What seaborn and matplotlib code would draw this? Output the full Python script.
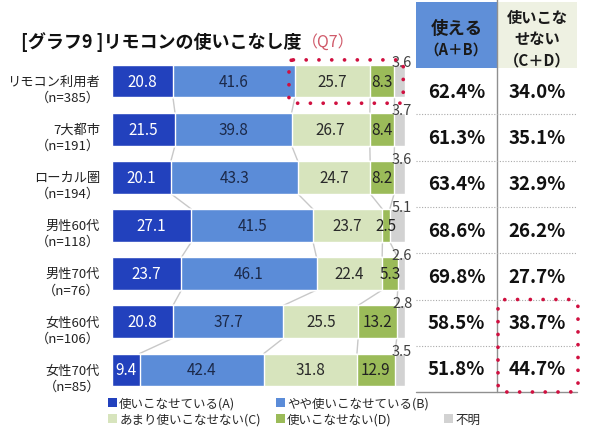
import matplotlib as mpl

mpl.use('Agg')
import matplotlib.pyplot as plt
from matplotlib.patches import Rectangle, FancyBboxPatch, Patch
from matplotlib.lines import Line2D
from matplotlib.transforms import blended_transform_factory
import numpy as np
import pandas as pd
import seaborn as sns

# ---- data ----
groups = ["リモコン利用者", "7大都市", "ローカル圏", "男性60代", "男性70代", "女性60代", "女性70代"]
n_sizes = [385, 191, 194, 118, 76, 106, 85]
used_a = [20.8, 21.5, 20.1, 27.1, 23.7, 20.8, 9.4]
used_b = [41.6, 39.8, 43.3, 41.5, 46.1, 37.7, 42.4]
used_c = [25.7, 26.7, 24.7, 23.7, 22.4, 25.5, 31.8]
used_d = [8.3, 8.4, 8.2, 2.5, 5.3, 13.2, 12.9]
unknown = [3.6, 3.7, 3.6, 5.1, 2.6, 2.8, 3.5]
series_names = ["使いこなせている(A)", "やや使いこなせている(B)",
                "あまり使いこなせない(C)", "使いこなせない(D)", "不明"]
usable_ab = [62.4, 61.3, 63.4, 68.6, 69.8, 58.5, 51.8]
unusable_cd = [34.0, 35.1, 32.9, 26.2, 27.7, 38.7, 44.7]

colors = ['#2241bd', '#5b8cd8', '#d7e4bd', '#9bbb59', '#d2d2d2']
text_colors = ['white', '#1c2a4a', '#2a2a2a', '#222222', '#404040']
red = '#d01040'

sns.set_style('white')
plt.rcParams['font.family'] = ['Noto Sans CJK JP', 'DejaVu Sans']

W, H = 590, 435


def fx(x):
    return x / W


def fy(y):
    return 1 - y / H


fig = plt.figure(figsize=(5.9, 4.35), dpi=100)
ax = fig.add_axes([fx(112), fy(395), 293 / W, 337 / H])

vals = np.array([used_a, used_b, used_c, used_d, unknown])
cum = vals.cumsum(axis=0)
starts = cum - vals
df = pd.DataFrame({'group': groups})
for k in range(5):
    df['cum%d' % k] = cum[k]

bar_w = 0.68
# stacked bars: draw cumulative totals, longest first
for k in range(4, -1, -1):
    sns.barplot(data=df, x='cum%d' % k, y='group', orient='h', color=colors[k],
                width=bar_w, edgecolor='white', linewidth=1, errorbar=None,
                saturation=1, ax=ax)

# series lines between bars
for k in range(4):
    for i in range(len(groups) - 1):
        ax.plot([cum[k, i], cum[k, i + 1]], [i + bar_w / 2, i + 1 - bar_w / 2],
                color='#c8c8c8', lw=1, zorder=0.5)

# segment labels
for k in range(4):
    for i in range(len(groups)):
        ax.text(starts[k, i] + vals[k, i] / 2, i, '%.1f' % vals[k, i],
                ha='center', va='center', color=text_colors[k], fontsize=11)
for i in range(len(groups)):
    ax.text(99, i - bar_w / 2 - 0.05, '%.1f' % unknown[i], ha='center',
            va='center', color=text_colors[4], fontsize=10.5, clip_on=False)

# category labels
trans = blended_transform_factory(ax.transAxes, ax.transData)
for i, (g, n) in enumerate(zip(groups, n_sizes)):
    ax.text(-12 / 293, i + 0.17, '%s\n（n=%d）' % (g, n), transform=trans,
            ha='right', va='center', multialignment='right', fontsize=9.5,
            linespacing=1.3, color='#222222')

ax.set_xlim(0, 100)
ax.set_ylim(len(groups) - 0.5, -0.5)
ax.set_xticks([])
ax.set_yticks([])
ax.set(xlabel='', ylabel='')
sns.despine(ax=ax, left=True, bottom=True)

# red dotted highlight on row 1 (C + D)
hl = FancyBboxPatch((cum[1, 0] - 2, -0.44), 100 - cum[1, 0] + 1.4, 0.9,
                    boxstyle='round,pad=0,rounding_size=1.5', mutation_aspect=0.05,
                    fill=False, edgecolor=red, lw=2.7, ls=(0, (0.01, 3.4)),
                    capstyle='round', clip_on=False, zorder=5)
ax.add_patch(hl)

# title
title = fig.text(fx(21), fy(42), '[グラフ9 ]リモコンの使いこなし度', fontsize=13,
                 fontweight='bold', va='center', ha='left', color='#111111')
ax.annotate('（Q7）', xy=(1, 0.5), xycoords=title, va='center', ha='left',
            fontsize=11.5, color='#d05a6a')

# right-hand table
row_top = 69
row_h = 46.3
fig.add_artist(Rectangle((fx(416), fy(row_top)), 81 / W, (row_top - 3) / H,
                         transform=fig.transFigure, facecolor='#5f8fd8', edgecolor='none'))
fig.add_artist(Rectangle((fx(497), fy(row_top)), 80 / W, (row_top - 3) / H,
                         transform=fig.transFigure, facecolor='#eef1e2', edgecolor='none'))
fig.text(fx(456.5), fy(29), '使える', ha='center', va='center', fontsize=12.5,
         fontweight='bold', color='#1a1a1a')
fig.text(fx(456.5), fy(50), '（A＋B）', ha='center', va='center', fontsize=10.5,
         fontweight='bold', color='#1a1a1a')
for txt, yy in [('使いこな', 18), ('せない', 39), ('（C＋D）', 60)]:
    fig.text(fx(537), fy(yy), txt, ha='center', va='center', fontsize=11,
             fontweight='bold', color='#1a1a1a')

fig.add_artist(Line2D([fx(497), fx(497)], [fy(0), fy(393)],
                      transform=fig.transFigure, color='#909090', lw=1))
for i in range(len(groups)):
    yc = row_top + row_h * (i + 0.5)
    fig.text(fx(456.5), fy(yc), '%.1f%%' % usable_ab[i], ha='center', va='center',
             fontsize=13.5, fontweight='bold', color='#111111')
    fig.text(fx(537), fy(yc), '%.1f%%' % unusable_cd[i], ha='center', va='center',
             fontsize=13.5, fontweight='bold', color='#111111')
    yb = row_top + row_h * (i + 1)
    if i < len(groups) - 1:
        fig.add_artist(Line2D([fx(416), fx(577)], [fy(yb), fy(yb)],
                              transform=fig.transFigure, color='#aaaaaa',
                              lw=0.8, ls=(0, (1, 1.5))))
    else:
        fig.add_artist(Line2D([fx(416), fx(577)], [fy(yb), fy(yb)],
                              transform=fig.transFigure, color='#909090', lw=1))

# red dotted highlight on the table (last two rows, C + D)
top2 = row_top + row_h * 5
hl2 = FancyBboxPatch((fx(498), fy(393)), 80 / W, (393 - top2) / H,
                     boxstyle='round,pad=0,rounding_size=0.015', mutation_aspect=1.3,
                     transform=fig.transFigure, fill=False, edgecolor=red, lw=2.7,
                     ls=(0, (0.01, 3.4)), capstyle='round', zorder=5)
fig.add_artist(hl2)

# legend: A, C / B, D / blank, unknown
handles = [Patch(facecolor=c, edgecolor='none') for c in colors]
blank = Patch(facecolor='none', edgecolor='none')
order_h = [handles[0], handles[2], handles[1], handles[3], blank, handles[4]]
order_l = [series_names[0], series_names[2], series_names[1], series_names[3], '', series_names[4]]
fig.legend(order_h, order_l, ncol=3, loc='upper left',
           bbox_to_anchor=(fx(108), fy(398)), frameon=False, fontsize=9,
           handlelength=0.7, handleheight=0.7, handletextpad=0.2,
           columnspacing=1.2, labelspacing=0.2, borderpad=0, borderaxespad=0)

fig.savefig('out.png', dpi=100, facecolor='white')
